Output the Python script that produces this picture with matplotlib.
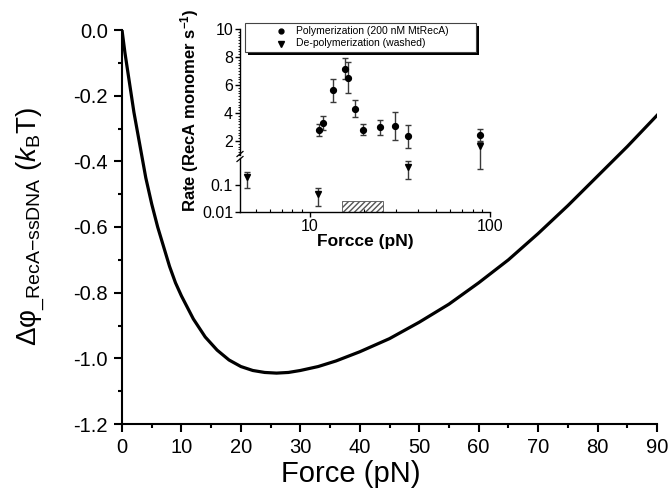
import matplotlib
matplotlib.use("Agg")
import matplotlib.pyplot as plt
from matplotlib.ticker import MultipleLocator, FixedLocator, NullLocator, LogLocator, NullFormatter
from matplotlib.lines import Line2D
from matplotlib.patches import Rectangle

plt.rcParams['font.family'] = ['Liberation Sans', 'DejaVu Sans']
plt.rcParams['mathtext.fontset'] = 'custom'
plt.rcParams['mathtext.rm'] = 'Liberation Sans'
plt.rcParams['mathtext.it'] = 'Liberation Sans:italic'
plt.rcParams['mathtext.bf'] = 'Liberation Sans:bold'

# ---- main curve data ----
force_curve = [0, 0.5, 1, 1.5, 2, 3, 4, 5, 6, 7, 8, 9, 10, 12, 14, 16, 18, 20, 22, 24, 26,
               28, 30, 33, 36, 40, 45, 50, 55, 60, 65, 70, 75, 80, 85, 90]
dphi_curve = [0, -0.07, -0.13, -0.19, -0.25, -0.35, -0.45, -0.53, -0.60, -0.66, -0.72, -0.77,
              -0.81, -0.88, -0.935, -0.975, -1.005, -1.025, -1.037, -1.043, -1.045,
              -1.043, -1.037, -1.025, -1.008, -0.98, -0.94, -0.89, -0.835, -0.77, -0.70,
              -0.62, -0.535, -0.445, -0.355, -0.26]
main_xticks = [0, 10, 20, 30, 40, 50, 60, 70, 80, 90]
main_yticks = [-1.2, -1.0, -0.8, -0.6, -0.4, -0.2, 0.0]

# ---- inset data ----
poly_force = [11.2, 11.85, 13.5, 15.7, 16.3, 17.8, 19.8, 24.5, 29.8, 35.2, 88]
poly_rate = [2.78, 3.27, 5.61, 7.17, 6.51, 4.31, 2.80, 2.97, 3.08, 2.33, 2.42]
poly_err = [0.4, 0.5, 0.8, 0.75, 1.1, 0.6, 0.4, 0.55, 1.0, 0.8, 0.45]

depoly_force = [4.5, 11.1, 35.2]
depoly_rate = [0.19, 0.046, 0.45]
depoly_lo = [0.075, 0.017, 0.17]
depoly_hi = [0.31, 0.075, 0.75]

depoly_hi_force = [88]
depoly_hi_rate = [1.62]
depoly_hi_lo = [0.018]
depoly_hi_hi = [1.95]

hatch_range = [15.0, 25.5]
hatch_top = 0.0256

inset_upper_yticks = [2, 4, 6, 8, 10]
inset_lower_yticks = [0.01, 0.1]
inset_lower_ylabels = ['0.01', '0.1']
inset_xticks = [10, 100]
legend_labels = ['Polymerization (200 nM MtRecA)', 'De-polymerization (washed)']

W, H = 672, 501
fig = plt.figure(figsize=(W / 100, H / 100), dpi=100)

def fx(px):
    return px / W

def fy(py):
    return 1 - py / H

# ---- main axes ----
ax = fig.add_axes([fx(122), fy(424), (657 - 122) / W, (424 - 30) / H])
ax.plot(force_curve, dphi_curve, color='black', lw=2.3, solid_joinstyle='round')
ax.set_xlim(0, 90)
ax.set_ylim(-1.2, 0.0)
ax.spines['top'].set_visible(False)
ax.spines['right'].set_visible(False)
for s in ('left', 'bottom'):
    ax.spines[s].set_linewidth(1.5)
ax.set_xticks(main_xticks)
ax.set_yticks(main_yticks)
ax.set_yticklabels([f'{v:.1f}' for v in main_yticks])
ax.xaxis.set_minor_locator(MultipleLocator(5))
ax.yaxis.set_minor_locator(MultipleLocator(0.1))
ax.tick_params(which='major', direction='out', length=6, width=1.5, labelsize=14.5, pad=4)
ax.tick_params(which='minor', direction='out', length=3, width=1.5)
ax.set_xlabel('Force (pN)', fontsize=21)
ax.xaxis.set_label_coords(0.428, -0.092)
ax.set_ylabel(r'Δφ$_{\_\mathrm{RecA{-}ssDNA}}$ ($k_\mathrm{B}$T)', fontsize=20)
ax.yaxis.set_label_coords(-0.14, 0.5)

# ---- inset axes ----
left_px, right_px = 240, 490
ax_up = fig.add_axes([fx(left_px), fy(155), (right_px - left_px) / W, (155 - 29) / H])
ax_lo = fig.add_axes([fx(left_px), fy(212), (right_px - left_px) / W, (212 - 158) / H])

for a in (ax_up, ax_lo):
    a.set_xscale('log')
    a.set_xlim(4.1, 100)
    a.patch.set_alpha(0)
    a.spines['top'].set_visible(False)
    a.spines['right'].set_visible(False)
    a.spines['left'].set_linewidth(1.0)
    a.spines['bottom'].set_linewidth(1.0)

ax_up.spines['bottom'].set_visible(False)
ax_up.set_ylim(1, 10)
ax_up.set_yticks(inset_upper_yticks)
ax_up.yaxis.set_minor_locator(MultipleLocator(0.2))
ax_up.tick_params(axis='x', which='both', bottom=False, labelbottom=False)
ax_up.tick_params(axis='y', which='major', direction='out', length=3.5, width=1, labelsize=11.5, pad=1.5)
ax_up.tick_params(axis='y', which='minor', direction='out', length=1.5, width=0.6)

ax_lo.set_yscale('log')
ax_lo.set_ylim(0.01, 1.0)
ax_lo.yaxis.set_major_locator(FixedLocator(inset_lower_yticks))
ax_lo.set_yticklabels(inset_lower_ylabels)
ax_lo.yaxis.set_minor_locator(NullLocator())
ax_lo.xaxis.set_major_locator(FixedLocator(inset_xticks))
ax_lo.set_xticklabels([str(v) for v in inset_xticks])
ax_lo.xaxis.set_minor_locator(LogLocator(base=10, subs=(2, 3, 4, 5, 6, 7, 8, 9)))
ax_lo.xaxis.set_minor_formatter(NullFormatter())
ax_lo.tick_params(which='major', direction='out', length=3.5, width=1, labelsize=11.5, pad=1.5)
ax_lo.tick_params(axis='x', which='minor', direction='in', length=2.5, width=0.8)
ax_lo.set_xlabel('Forcce (pN)', fontsize=12.5, fontweight='bold', labelpad=0)

# hatched region
ax_lo.add_patch(Rectangle((hatch_range[0], 0.01), hatch_range[1] - hatch_range[0], hatch_top - 0.01,
                          facecolor='white', edgecolor='#555555', hatch='//////', lw=0.6, zorder=1))

ecol = '#3a3a3a'
ax_up.errorbar(poly_force, poly_rate, yerr=poly_err, fmt='o', color='black', ms=4.2,
               ecolor=ecol, elinewidth=1.0, capsize=2, capthick=1.0, zorder=3)
lo_err = [[r - l for r, l in zip(depoly_rate, depoly_lo)], [h - r for r, h in zip(depoly_rate, depoly_hi)]]
ax_lo.errorbar(depoly_force, depoly_rate, yerr=lo_err, fmt='v', color='black', ms=4.5,
               ecolor=ecol, elinewidth=1.0, capsize=2, capthick=1.0, zorder=3)
hi_err = [[r - l for r, l in zip(depoly_hi_rate, depoly_hi_lo)],
          [h - r for r, h in zip(depoly_hi_rate, depoly_hi_hi)]]
cont = ax_up.errorbar(depoly_hi_force, depoly_hi_rate, yerr=hi_err, fmt='v', color='black', ms=4.5,
                      ecolor=ecol, elinewidth=1.0, capsize=2, capthick=1.0, zorder=3)
for child in cont.get_children():
    child.set_clip_on(False)

# axis break marks
for ypx in (154, 159):
    fig.add_artist(Line2D([fx(left_px - 3), fx(left_px + 3)], [fy(ypx + 2.5), fy(ypx - 2.5)],
                          color='black', lw=0.9))

# inset y label
fig.text(fx(190), fy(110), r'Rate (RecA monomer s$^{\mathbf{-1}}$)', rotation=90,
         ha='center', va='center', fontsize=12, fontweight='bold')

# legend box (drawn by hand, with a solid black shadow)
lx0, ly0, lx1, ly1 = 245, 23, 476, 52
fig.add_artist(Rectangle((fx(lx0 + 2.5), fy(ly1 + 2.5)), (lx1 - lx0) / W, (ly1 - ly0) / H,
                         transform=fig.transFigure, facecolor='black', edgecolor='black', lw=0, zorder=5))
fig.add_artist(Rectangle((fx(lx0), fy(ly1)), (lx1 - lx0) / W, (ly1 - ly0) / H,
                         transform=fig.transFigure, facecolor='white', edgecolor='#444444', lw=0.8, zorder=6))
for label, marker, ms, ypx in zip(legend_labels, ['o', 'v'], [3.5, 3.8], [30.5, 43.5]):
    fig.add_artist(Line2D([fx(281)], [fy(ypx)], marker=marker, ls='none', color='black', ms=ms,
                          transform=fig.transFigure, zorder=7))
    fig.text(fx(296), fy(ypx), label, ha='left', va='center', fontsize=7.5, zorder=7)

fig.savefig('out.png', dpi=100)
